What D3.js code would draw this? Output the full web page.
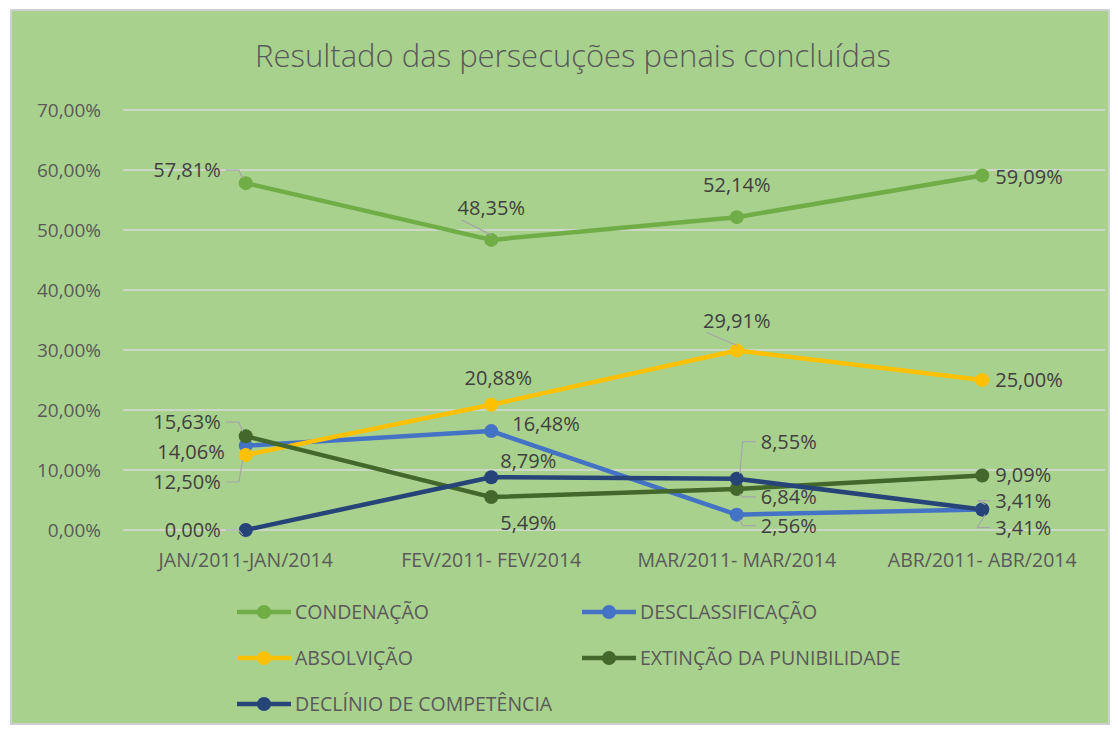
<!DOCTYPE html>
<html>
<head>
<meta charset="utf-8">
<script src="https://cdn.jsdelivr.net/npm/d3@7"></script>
<style>
  body { margin: 0; background: #fff; }
  text { font-family: "Open Sans", "Noto Sans", sans-serif; }
</style>
</head>
<body>
<svg id="chart" width="1118" height="730"></svg>
<script>
const categories = ["JAN/2011-JAN/2014", "FEV/2011- FEV/2014", "MAR/2011- MAR/2014", "ABR/2011- ABR/2014"];
const seriesNames = ["CONDENAÇÃO", "DESCLASSIFICAÇÃO", "ABSOLVIÇÃO", "EXTINÇÃO DA PUNIBILIDADE", "DECLÍNIO DE COMPETÊNCIA"];
const condenacao = [57.81, 48.35, 52.14, 59.09];
const desclassificacao = [14.06, 16.48, 2.56, 3.41];
const absolvicao = [12.50, 20.88, 29.91, 25.00];
const extincao = [15.63, 5.49, 6.84, 9.09];
const declinio = [0.00, 8.79, 8.55, 3.41];
const yTicks = [0, 10, 20, 30, 40, 50, 60, 70];

const colors = ["#70ad47", "#4472c4", "#ffc000", "#43682b", "#264478"];
const textColor = "#595959";

// label placement per series/point: [dx, dy, anchor, leader]
const labelPos = [
  [[-25, -13, "end", true], [0, -32, "middle", true], [0, -32, "middle", false], [13, 2, "start", false]],
  [[-21, 6, "end", false], [21, -7, "start", false], [24, 11, "start", true], [13, 18, "start", true]],
  [[-25, 27, "end", true], [7, -27, "middle", false], [0, -30, "middle", true], [13, 0, "start", false]],
  [[-25, -14, "end", true], [9, 26, "start", false], [24, 8, "start", true], [13, 0, "start", false]],
  [[-25, 0, "end", true], [9, -16, "start", false], [24, -37, "start", true], [13, -9, "start", true]]
];

const allSeries = [condenacao, desclassificacao, absolvicao, extincao, declinio];
const fmt = v => v.toFixed(2).replace(".", ",") + "%";

let svg = d3.select("#chart");

svg.append("rect")
  .attr("x", 11).attr("y", 10)
  .attr("width", 1098).attr("height", 714)
  .style("fill", "#a9d18e")
  .style("stroke", "#d0d0d0")
  .style("stroke-width", 2);

svg.append("text")
  .attr("x", 573).attr("y", 67)
  .text("Resultado das persecuções penais concluídas")
  .style("text-anchor", "middle")
  .style("font-size", "31px")
  .style("font-weight", 300)
  .style("fill", textColor);

let xScale = d3.scaleBand()
  .domain(categories)
  .range([123, 1105]);
let xc = d => xScale(d) + xScale.bandwidth() / 2;

let yScale = d3.scaleLinear()
  .domain([0, 70])
  .range([530, 110]);

// gridlines + y labels
svg.selectAll(".grid")
  .data(yTicks)
  .enter()
  .append("line")
    .attr("x1", 123).attr("x2", 1105)
    .attr("y1", d => yScale(d)).attr("y2", d => yScale(d))
    .style("stroke", "#d9d9d9")
    .style("stroke-width", 1.5);
svg.selectAll(".ylab")
  .data(yTicks)
  .enter()
  .append("text")
    .attr("x", 101)
    .attr("y", d => yScale(d))
    .attr("dy", "0.35em")
    .text(d => fmt(d))
    .style("text-anchor", "end")
    .style("font-size", "19px")
    .style("fill", textColor);

// x labels
svg.selectAll(".xlab")
  .data(categories)
  .enter()
  .append("text")
    .attr("x", d => xc(d))
    .attr("y", 567)
    .text(d => d)
    .style("text-anchor", "middle")
    .style("font-size", "19.5px")
    .style("fill", textColor);

let line = d3.line()
  .x((d, i) => xc(categories[i]))
  .y(d => yScale(d));

allSeries.forEach((vals, s) => {
  svg.append("path")
    .datum(vals)
    .attr("d", line)
    .style("fill", "none")
    .style("stroke", colors[s])
    .style("stroke-width", 4.5)
    .style("stroke-linejoin", "round");
  svg.selectAll(".pt" + s)
    .data(vals)
    .enter()
    .append("circle")
      .attr("cx", (d, i) => xc(categories[i]))
      .attr("cy", d => yScale(d))
      .attr("r", 7)
      .style("fill", colors[s]);
});

// data labels with leader lines
allSeries.forEach((vals, s) => {
  vals.forEach((v, i) => {
    let [dx, dy, anchor, leader] = labelPos[s][i];
    let px = xc(categories[i]), py = yScale(v);
    let lx = px + dx, ly = py + dy;
    if (leader) {
      let pts;
      if (anchor == "end") pts = [[lx + 5, ly], [lx + 18, ly], [px - 3, py + (ly < py ? -5 : 5)]];
      else if (anchor == "start") pts = [[lx - 5, ly], [lx - 18, ly], [px + 3, py + (ly < py ? -5 : 5)]];
      else pts = [[lx - 30, ly + 12], [px, py - 5]];
      svg.append("polyline")
        .attr("points", pts.map(p => p.join(",")).join(" "))
        .style("fill", "none")
        .style("stroke", "#a6a6a6")
        .style("stroke-width", 1.2);
    }
    svg.append("text")
      .attr("x", lx).attr("y", ly)
      .attr("dy", "0.35em")
      .text(fmt(v))
      .style("text-anchor", anchor)
      .style("font-size", "20px")
      .style("fill", "#404040");
  });
});

// legend
let legendPos = [[237, 612], [582, 612], [237, 658], [582, 658], [237, 704]];
seriesNames.forEach((name, s) => {
  let [lx, ly] = legendPos[s];
  let g = svg.append("g").attr("transform", `translate(${lx},${ly})`);
  g.append("line")
    .attr("x1", 0).attr("x2", 54)
    .style("stroke", colors[s])
    .style("stroke-width", 4.5);
  g.append("circle").attr("cx", 27).attr("r", 7).style("fill", colors[s]);
  g.append("text")
    .attr("x", 58).attr("dy", "0.35em")
    .text(name)
    .style("font-size", "19.5px")
    .style("fill", textColor);
});
</script>
</body>
</html>
